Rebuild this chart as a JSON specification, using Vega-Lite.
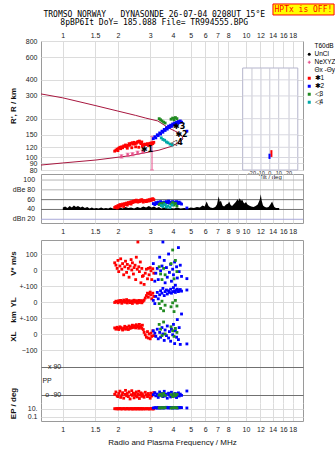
{
"$schema": "https://vega.github.io/schema/vega-lite/v6.json",
"background": "white",
"padding": {"left": 8, "top": 2, "right": 0, "bottom": 0},
"title": {"text": "TROMSO NORWAY\u00a0\u00a0 DYNASONDE 26-07-04 0208UT 15°E", "subtitle": "8pBP6It DoY= 185.088 File= TR994555.BPG", "font": "DejaVu Sans Mono", "fontSize": 8, "fontWeight": "normal", "subtitleFont": "DejaVu Sans Mono", "subtitleFontSize": 8, "subtitlePadding": 0, "subtitleColor": "#000", "color": "#000", "anchor": "middle", "offset": -24, "dx": -18},
"datasets": {
"echo": [
{"f":1.92,"R":112,"amp":44,"V":45,"YL":-3,"XL":38,"PP":-85,"EP":12,"s":"✱1"},
{"f":1.95,"R":114,"amp":46,"V":30,"YL":5,"XL":30,"PP":-70,"EP":11,"s":"✱1"},
{"f":1.98,"R":116,"amp":43,"V":10,"YL":2,"XL":42,"PP":-95,"EP":13,"s":"✱1"},
{"f":2.00,"R":113,"amp":48,"V":60,"YL":-5,"XL":35,"PP":-100,"EP":10,"s":"✱1"},
{"f":2.02,"R":118,"amp":45,"V":-10,"YL":8,"XL":28,"PP":-80,"EP":12,"s":"✱1"},
{"f":2.05,"R":120,"amp":50,"V":25,"YL":0,"XL":45,"PP":-65,"EP":14,"s":"✱1"},
{"f":2.07,"R":117,"amp":47,"V":70,"YL":10,"XL":40,"PP":-105,"EP":11,"s":"✱1"},
{"f":2.10,"R":121,"amp":49,"V":5,"YL":-8,"XL":33,"PP":-90,"EP":10,"s":"✱1"},
{"f":2.12,"R":119,"amp":51,"V":40,"YL":3,"XL":25,"PP":-75,"EP":12,"s":"✱1"},
{"f":2.15,"R":123,"amp":46,"V":-30,"YL":12,"XL":38,"PP":-110,"EP":13,"s":"✱1"},
{"f":2.18,"R":122,"amp":52,"V":20,"YL":-2,"XL":48,"PP":-85,"EP":11,"s":"✱1"},
{"f":2.20,"R":125,"amp":50,"V":55,"YL":6,"XL":30,"PP":-60,"EP":10,"s":"✱1"},
{"f":2.23,"R":121,"amp":53,"V":-15,"YL":15,"XL":36,"PP":-95,"EP":12,"s":"✱1"},
{"f":2.25,"R":118,"amp":49,"V":35,"YL":-6,"XL":42,"PP":-80,"EP":14,"s":"✱1"},
{"f":2.28,"R":124,"amp":54,"V":10,"YL":4,"XL":28,"PP":-100,"EP":11,"s":"✱1"},
{"f":2.30,"R":128,"amp":52,"V":-45,"YL":9,"XL":50,"PP":-70,"EP":10,"s":"✱1"},
{"f":2.33,"R":125,"amp":55,"V":25,"YL":-4,"XL":35,"PP":-115,"EP":12,"s":"✱1"},
{"f":2.36,"R":129,"amp":51,"V":65,"YL":2,"XL":44,"PP":-88,"EP":13,"s":"✱1"},
{"f":2.38,"R":119,"amp":56,"V":0,"YL":7,"XL":39,"PP":-62,"EP":11,"s":"✱1"},
{"f":2.40,"R":130,"amp":54,"V":45,"YL":-9,"XL":55,"PP":-92,"EP":10,"s":"✱1"},
{"f":2.43,"R":127,"amp":57,"V":-25,"YL":5,"XL":41,"PP":-78,"EP":12,"s":"✱1"},
{"f":2.45,"R":131,"amp":55,"V":15,"YL":11,"XL":47,"PP":-108,"EP":11,"s":"✱1"},
{"f":2.48,"R":128,"amp":58,"V":30,"YL":-1,"XL":52,"PP":-84,"EP":13,"s":"✱1"},
{"f":2.50,"R":121,"amp":56,"V":-60,"YL":8,"XL":38,"PP":-96,"EP":10,"s":"✱1"},
{"f":2.52,"R":129,"amp":59,"V":80,"YL":3,"XL":58,"PP":-70,"EP":12,"s":"✱1"},
{"f":2.55,"R":131,"amp":57,"V":5,"YL":-7,"XL":45,"PP":-102,"EP":11,"s":"✱1"},
{"f":2.57,"R":133,"amp":55,"V":175,"YL":6,"XL":50,"PP":-86,"EP":14,"s":"✱1"},
{"f":2.60,"R":120,"amp":58,"V":20,"YL":10,"XL":36,"PP":-66,"EP":10,"s":"✱1"},
{"f":2.62,"R":134,"amp":56,"V":-10,"YL":-3,"XL":60,"PP":-112,"EP":12,"s":"✱1"},
{"f":2.65,"R":131,"amp":59,"V":50,"YL":4,"XL":42,"PP":-90,"EP":11,"s":"✱1"},
{"f":2.67,"R":128,"amp":57,"V":-80,"YL":9,"XL":48,"PP":-76,"EP":13,"s":"✱1"},
{"f":2.70,"R":132,"amp":60,"V":10,"YL":-5,"XL":35,"PP":-98,"EP":10,"s":"✱1"},
{"f":2.72,"R":122,"amp":58,"V":-40,"YL":2,"XL":55,"PP":-82,"EP":12,"s":"✱1"},
{"f":2.75,"R":126,"amp":55,"V":-35,"YL":7,"XL":28,"PP":-94,"EP":11,"s":"✱1"},
{"f":2.78,"R":125,"amp":57,"V":-90,"YL":12,"XL":10,"PP":-104,"EP":12,"s":"✱1"},
{"f":2.82,"R":127,"amp":58,"V":-20,"YL":25,"XL":-5,"PP":-72,"EP":10,"s":"✱1"},
{"f":2.86,"R":126,"amp":56,"V":5,"YL":40,"XL":-20,"PP":-88,"EP":13,"s":"✱1"},
{"f":2.90,"R":128,"amp":59,"V":-55,"YL":55,"XL":15,"PP":-100,"EP":11,"s":"✱1"},
{"f":2.93,"R":124,"amp":57,"V":10,"YL":30,"XL":-25,"PP":-80,"EP":12,"s":"✱1"},
{"f":2.96,"R":127,"amp":60,"V":-30,"YL":50,"XL":0,"PP":-92,"EP":10,"s":"✱1"},
{"f":3.00,"R":129,"amp":58,"V":15,"YL":62,"XL":-30,"PP":-110,"EP":11,"s":"✱1"},
{"f":3.03,"R":126,"amp":61,"V":-5,"YL":45,"XL":5,"PP":-78,"EP":13,"s":"✱1"},
{"f":3.06,"R":130,"amp":59,"V":-60,"YL":20,"XL":-15,"PP":-96,"EP":12,"s":"✱1"},
{"f":3.10,"R":128,"amp":62,"V":8,"YL":55,"XL":20,"PP":-86,"EP":10,"s":"✱1"},
{"f":3.14,"R":131,"amp":60,"V":-20,"YL":35,"XL":-10,"PP":-74,"EP":11,"s":"✱1"},
{"f":3.12,"R":140,"amp":52,"V":40,"YL":10,"XL":20,"PP":-88,"EP":18,"s":"✱2"},
{"f":3.18,"R":145,"amp":50,"V":-70,"YL":-10,"XL":5,"PP":-75,"EP":20,"s":"✱2"},
{"f":3.22,"R":142,"amp":54,"V":-20,"YL":35,"XL":-15,"PP":-95,"EP":22,"s":"✱2"},
{"f":3.28,"R":150,"amp":52,"V":10,"YL":60,"XL":30,"PP":-84,"EP":16,"s":"✱2"},
{"f":3.32,"R":148,"amp":55,"V":-60,"YL":20,"XL":-30,"PP":-105,"EP":25,"s":"✱2"},
{"f":3.38,"R":155,"amp":53,"V":80,"YL":45,"XL":10,"PP":-70,"EP":18,"s":"✱2"},
{"f":3.42,"R":152,"amp":56,"V":-5,"YL":70,"XL":-20,"PP":-92,"EP":20,"s":"✱2"},
{"f":3.48,"R":160,"amp":54,"V":25,"YL":55,"XL":40,"PP":-80,"EP":24,"s":"✱2"},
{"f":3.52,"R":157,"amp":52,"V":175,"YL":85,"XL":0,"PP":-100,"EP":17,"s":"✱2"},
{"f":3.58,"R":165,"amp":55,"V":60,"YL":40,"XL":-40,"PP":-66,"EP":22,"s":"✱2"},
{"f":3.62,"R":162,"amp":53,"V":-80,"YL":65,"XL":25,"PP":-96,"EP":19,"s":"✱2"},
{"f":3.68,"R":170,"amp":56,"V":15,"YL":75,"XL":-10,"PP":-84,"EP":26,"s":"✱2"},
{"f":3.72,"R":166,"amp":54,"V":-45,"YL":50,"XL":50,"PP":-110,"EP":21,"s":"✱2"},
{"f":3.78,"R":175,"amp":57,"V":100,"YL":70,"XL":-25,"PP":-78,"EP":18,"s":"✱2"},
{"f":3.82,"R":171,"amp":53,"V":-15,"YL":60,"XL":15,"PP":-90,"EP":23,"s":"✱2"},
{"f":3.88,"R":178,"amp":55,"V":35,"YL":80,"XL":-45,"PP":-102,"EP":20,"s":"✱2"},
{"f":3.92,"R":174,"amp":52,"V":-70,"YL":55,"XL":30,"PP":-72,"EP":25,"s":"✱2"},
{"f":3.98,"R":182,"amp":56,"V":5,"YL":65,"XL":-5,"PP":-94,"EP":17,"s":"✱2"},
{"f":4.02,"R":178,"amp":54,"V":-30,"YL":90,"XL":60,"PP":-86,"EP":22,"s":"✱2"},
{"f":4.08,"R":185,"amp":55,"V":50,"YL":70,"XL":-60,"PP":-98,"EP":19,"s":"✱2"},
{"f":4.12,"R":181,"amp":53,"V":-95,"YL":60,"XL":20,"PP":-80,"EP":24,"s":"✱2"},
{"f":4.18,"R":188,"amp":56,"V":20,"YL":75,"XL":-20,"PP":-106,"EP":21,"s":"✱2"},
{"f":4.22,"R":184,"amp":54,"V":-50,"YL":80,"XL":90,"PP":-90,"EP":18,"s":"✱2"},
{"f":4.28,"R":190,"amp":52,"V":140,"YL":65,"XL":-35,"PP":-76,"EP":23,"s":"✱2"},
{"f":4.32,"R":186,"amp":55,"V":-10,"YL":72,"XL":40,"PP":-96,"EP":20,"s":"✱2"},
{"f":4.38,"R":192,"amp":53,"V":30,"YL":78,"XL":-65,"PP":-84,"EP":25,"s":"✱2"},
{"f":4.45,"R":188,"amp":51,"V":-40,"YL":68,"XL":125,"PP":-92,"EP":22,"s":"✱2"},
{"f":4.76,"R":160,"amp":43,"V":-54,"YL":75,"XL":-62,"PP":-64,"EP":18,"s":"✱2"},
{"f":3.36,"R":200,"amp":50,"V":20,"YL":-10,"XL":60,"PP":-90,"EP":20,"s":"◁3"},
{"f":3.42,"R":196,"amp":52,"V":-25,"YL":-40,"XL":30,"PP":-84,"EP":18,"s":"◁3"},
{"f":3.48,"R":192,"amp":48,"V":-60,"YL":5,"XL":-10,"PP":-96,"EP":22,"s":"◁3"},
{"f":3.55,"R":188,"amp":53,"V":10,"YL":-55,"XL":75,"PP":-80,"EP":19,"s":"◁3"},
{"f":3.62,"R":185,"amp":50,"V":-30,"YL":-20,"XL":0,"PP":-92,"EP":24,"s":"◁3"},
{"f":3.90,"R":198,"amp":51,"V":40,"YL":-30,"XL":45,"PP":-88,"EP":18,"s":"◁3"},
{"f":3.98,"R":202,"amp":54,"V":125,"YL":-5,"XL":20,"PP":-100,"EP":21,"s":"◁3"},
{"f":4.05,"R":196,"amp":49,"V":-55,"YL":-60,"XL":-15,"PP":-82,"EP":20,"s":"◁3"},
{"f":4.12,"R":204,"amp":52,"V":60,"YL":10,"XL":35,"PP":-94,"EP":23,"s":"◁3"},
{"f":4.20,"R":200,"amp":47,"V":-10,"YL":-25,"XL":10,"PP":-86,"EP":19,"s":"◁3"},
{"f":3.45,"R":142,"amp":48,"s":"◁4"},
{"f":3.52,"R":138,"amp":46,"s":"◁4"},
{"f":3.60,"R":136,"amp":50,"s":"◁4"},
{"f":3.68,"R":132,"amp":45,"s":"◁4"},
{"f":3.75,"R":130,"amp":47,"s":"◁4"},
{"f":3.85,"R":127,"amp":44,"s":"◁4"},
{"f":3.95,"R":125,"amp":49,"s":"◁4"}
],
"noise": [
{"f":1.00,"db":44},{"f":1.03,"db":46},{"f":1.06,"db":43},{"f":1.09,"db":47},{"f":1.12,"db":44},{"f":1.15,"db":48},{"f":1.18,"db":45},{"f":1.21,"db":47},{"f":1.25,"db":44},{"f":1.28,"db":46},{"f":1.32,"db":43},{"f":1.36,"db":45},{"f":1.40,"db":42},{"f":1.44,"db":44},{"f":1.48,"db":42},{"f":1.52,"db":43},{"f":1.57,"db":42},{"f":1.62,"db":44},{"f":1.67,"db":42},{"f":1.72,"db":43},{"f":1.77,"db":42},{"f":1.82,"db":44},{"f":1.88,"db":42},{"f":1.94,"db":43},{"f":2.00,"db":42},{"f":2.06,"db":44},{"f":2.12,"db":42},{"f":2.20,"db":45},{"f":2.28,"db":43},{"f":2.36,"db":44},{"f":2.45,"db":42},{"f":2.55,"db":45},{"f":2.65,"db":43},{"f":2.75,"db":46},{"f":2.85,"db":44},{"f":2.95,"db":47},{"f":3.05,"db":44},{"f":3.15,"db":46},{"f":3.25,"db":43},{"f":3.35,"db":45},{"f":3.45,"db":42},{"f":3.60,"db":44},{"f":3.75,"db":42},{"f":3.90,"db":43},{"f":4.05,"db":42},{"f":4.20,"db":44},{"f":4.40,"db":42},{"f":4.60,"db":43},{"f":4.80,"db":42},{"f":5.00,"db":44},{"f":5.20,"db":43},{"f":5.40,"db":45},{"f":5.60,"db":44},{"f":5.80,"db":48},{"f":5.95,"db":46},{"f":6.10,"db":56},{"f":6.25,"db":47},{"f":6.40,"db":44},{"f":6.60,"db":43},{"f":6.80,"db":45},{"f":6.95,"db":50},{"f":7.10,"db":67},{"f":7.20,"db":55},{"f":7.30,"db":58},{"f":7.45,"db":48},{"f":7.60,"db":46},{"f":7.80,"db":50},{"f":8.00,"db":52},{"f":8.10,"db":56},{"f":8.25,"db":49},{"f":8.40,"db":47},{"f":8.60,"db":51},{"f":8.80,"db":55},{"f":9.00,"db":61},{"f":9.10,"db":57},{"f":9.25,"db":63},{"f":9.40,"db":58},{"f":9.55,"db":60},{"f":9.70,"db":54},{"f":9.85,"db":52},{"f":10.0,"db":55},{"f":10.2,"db":50},{"f":10.4,"db":48},{"f":10.7,"db":46},{"f":11.0,"db":45},{"f":11.3,"db":47},{"f":11.6,"db":50},{"f":11.9,"db":60},{"f":12.05,"db":71},{"f":12.2,"db":58},{"f":12.4,"db":48},{"f":12.7,"db":45},{"f":13.0,"db":44},{"f":13.3,"db":45},{"f":13.6,"db":50},{"f":13.9,"db":56},{"f":14.1,"db":50},{"f":14.3,"db":45},{"f":14.6,"db":43},{"f":15.0,"db":43},{"f":15.2,"db":43}
],
"curve": [
{"o":1,"f":0.76,"R":311},{"o":2,"f":1.0,"R":290},{"o":3,"f":1.5,"R":253},{"o":4,"f":2.0,"R":229},{"o":5,"f":2.5,"R":212},{"o":6,"f":2.84,"R":202},{"o":7,"f":3.3,"R":192},{"o":8,"f":3.8,"R":169},{"o":9,"f":4.3,"R":155},{"o":10,"f":4.47,"R":147},{"o":11,"f":4.53,"R":139},{"o":12,"f":4.41,"R":134.5},{"o":13,"f":3.99,"R":123},{"o":14,"f":3.35,"R":114},{"o":15,"f":2.3,"R":103},{"o":16,"f":1.515,"R":95.6},{"o":17,"f":1.0,"R":90.7},{"o":18,"f":0.76,"R":87.4}
],
"nexyz": [
{"f":2.09,"lo":99,"hi":105,"m":102},{"f":2.26,"lo":102,"hi":108,"m":105},{"f":2.40,"lo":103,"hi":109,"m":106},{"f":2.56,"lo":106,"hi":112,"m":109},{"f":2.73,"lo":108,"hi":114,"m":111},{"f":3.07,"lo":80,"hi":146}
],
"labels": [
{"f":2.67,"R":114,"t":"✱1"},{"f":4.12,"R":149,"t":"✱2"},{"f":4.0,"R":171,"t":"✱3"},{"f":3.9,"R":130,"t":"◁4"}
],
"tiltgrid": [{"f":10.79},{"f":12.08},{"f":13.5},{"f":15.1},{"f":17.2}],
"tilth": [{"R":90},{"R":100},{"R":120},{"R":150},{"R":200},{"R":300},{"R":400}],
"tilt": [{"f":13.78,"lo":101,"hi":114,"s":"✱1"},{"f":13.45,"lo":97.5,"hi":107,"s":"✱2"}],
"tiltlab": [{"f":10.79,"t":"-20"},{"f":12.08,"t":"-10"},{"f":13.5,"t":"0"},{"f":15.1,"t":"10"},{"f":17.2,"t":"20"}],
"pplab": [{"f":0.98,"PP":90,"t":"x 90"},{"f":0.98,"PP":-90,"t":"o -90"},{"f":0.87,"PP":0,"t":"PP"}],
"dbgrid": [{"db":20,"k":"n"},{"db":40,"k":"d"},{"db":60,"k":"d"},{"db":80,"k":"l"},{"db":100,"k":"l"}],
"dblab": [{"db":20,"t":"dBn 20"},{"db":40,"t":"40"},{"db":60,"t":"60"},{"db":80,"t":"dBe 80"},{"db":100,"t":"100"}],
"one": [{}]
},
"vconcat": [
{
"width": 262, "height": 129,
"layer": [
{"data": {"name": "one"}, "mark": {"type": "rect", "fill": "white", "stroke": "#b4b4cc", "strokeWidth": 1},
 "encoding": {
  "x": {"datum": 9.6, "type": "quantitative", "scale": {"type": "log", "domain": [0.76, 20.5], "nice": false}, "axis": {"orient": "top", "values": [1,1.5,2,3,4,5,6,7,8,10,12,14,16,18], "format": "~g", "title": null, "grid": true, "labelPadding": 3}},
  "x2": {"datum": 19.2},
  "y": {"datum": 80, "type": "quantitative", "scale": {"type": "log", "domain": [80, 800], "nice": false}, "axis": {"values": [80,90,100,120,150,200,300,400,600,800], "format": "~g", "title": "R', R / km", "grid": true, "titleX": -28, "titleBaseline": "middle", "labelOverlap": false}},
  "y2": {"datum": 494}
 }},
{"data": {"name": "tiltgrid"}, "mark": {"type": "rule", "color": "#c8c8d4", "strokeWidth": 1},
 "encoding": {"x": {"field": "f", "type": "quantitative"}, "y": {"datum": 80}, "y2": {"datum": 494}}},
{"data": {"name": "tilth"}, "mark": {"type": "rule", "color": "#d8d8e0", "strokeWidth": 1},
 "encoding": {"x": {"datum": 9.6}, "x2": {"datum": 19.2}, "y": {"field": "R", "type": "quantitative"}}},
{"data": {"name": "tilt"}, "transform": [{"filter": "datum.s == '✱1'"}], "mark": {"type": "rule", "color": "#ff0000", "strokeWidth": 2},
 "encoding": {"x": {"field": "f", "type": "quantitative"}, "y": {"field": "lo", "type": "quantitative"}, "y2": {"field": "hi"}}},
{"data": {"name": "tilt"}, "transform": [{"filter": "datum.s == '✱2'"}], "mark": {"type": "rule", "color": "#0000ff", "strokeWidth": 2},
 "encoding": {"x": {"field": "f", "type": "quantitative"}, "y": {"field": "lo", "type": "quantitative"}, "y2": {"field": "hi"}}},
{"data": {"name": "tiltlab"}, "mark": {"type": "text", "font": "Liberation Sans", "fontSize": 5.5, "color": "#222", "baseline": "middle"},
 "encoding": {"x": {"field": "f", "type": "quantitative"}, "y": {"datum": 76.5}, "text": {"field": "t"}}},
{"data": {"name": "one"}, "mark": {"type": "text", "font": "Liberation Sans", "fontSize": 6, "color": "#222", "baseline": "middle"},
 "encoding": {"x": {"datum": 13.6}, "y": {"datum": 70}, "text": {"value": "Tilt / deg"}}},
{"data": {"name": "curve"}, "mark": {"type": "line", "color": "#a8173f", "strokeWidth": 1},
 "encoding": {"x": {"field": "f", "type": "quantitative"}, "y": {"field": "R", "type": "quantitative"}, "order": {"field": "o"}}},
{"data": {"name": "nexyz"}, "mark": {"type": "rule", "color": "#e8508c", "strokeWidth": 1},
 "encoding": {"x": {"field": "f", "type": "quantitative"}, "y": {"field": "lo", "type": "quantitative"}, "y2": {"field": "hi"}}},
{"data": {"name": "nexyz"}, "mark": {"type": "tick", "orient": "horizontal", "color": "#e8508c", "size": 4, "thickness": 1},
 "encoding": {"x": {"field": "f", "type": "quantitative"}, "y": {"field": "lo", "type": "quantitative"}}},
{"data": {"name": "nexyz"}, "mark": {"type": "tick", "orient": "horizontal", "color": "#e8508c", "size": 4, "thickness": 1},
 "encoding": {"x": {"field": "f", "type": "quantitative"}, "y": {"field": "hi", "type": "quantitative"}}},
{"data": {"name": "nexyz"}, "mark": {"type": "square", "color": "#e8508c", "size": 6, "opacity": 1},
 "encoding": {"x": {"field": "f", "type": "quantitative"}, "y": {"field": "m", "type": "quantitative"}}},
{"data": {"name": "echo"}, "mark": {"type": "point", "filled": true, "size": 8, "opacity": 1},
 "encoding": {"x": {"field": "f", "type": "quantitative"}, "y": {"field": "R", "type": "quantitative"},
  "color": {"field": "s", "type": "nominal", "scale": {"domain": ["T60dB","UnCl","NeXYZ","Θx -Θy","✱1","✱2","◁3","◁4"], "range": ["#a0a0a0","#000000","#e8508c","#b0203c","#ff0000","#0000ff","#228b22","#00a8a8"]}, "legend": {"title": null, "orient": "none", "legendX": 265, "legendY": 2, "encode": {"symbols": {"update": {"stroke": {"scale": "color", "field": "value"}, "strokeWidth": {"value": 1.2}, "size": {"signal": "datum.value == 'T60dB' || datum.value == 'Θx -Θy' ? 50 : 9"}}}}}},
  "shape": {"field": "s", "type": "nominal", "scale": {"domain": ["T60dB","UnCl","NeXYZ","Θx -Θy","✱1","✱2","◁3","◁4"], "range": ["stroke","circle","cross","stroke","square","square","square","square"]}, "legend": {"title": null, "orient": "none", "legendX": 265, "legendY": 2, "encode": {"symbols": {"update": {"stroke": {"scale": "color", "field": "value"}, "strokeWidth": {"value": 1.2}, "size": {"signal": "datum.value == 'T60dB' || datum.value == 'Θx -Θy' ? 50 : 9"}}}}}}
 }},
{"data": {"name": "labels"}, "mark": {"type": "text", "font": "DejaVu Sans", "fontSize": 8, "fontWeight": "bold", "color": "#000", "align": "left", "baseline": "middle"},
 "encoding": {"x": {"field": "f", "type": "quantitative"}, "y": {"field": "R", "type": "quantitative"}, "text": {"field": "t"}}},
{"data": {"name": "one"}, "mark": {"type": "rect", "fill": "#ffff00", "stroke": "#ff0000", "strokeWidth": 1},
 "encoding": {"x": {"datum": 14.05}, "x2": {"datum": 30.3}, "y": {"datum": 1273}, "y2": {"datum": 1549}}},
{"data": {"name": "one"}, "mark": {"type": "text", "font": "DejaVu Sans Mono", "fontSize": 8, "color": "#ff0000", "baseline": "middle"},
 "encoding": {"x": {"datum": 20.6}, "y": {"datum": 1390}, "text": {"value": "HPTx is OFF!"}}}
]
},
{"width": 262, "height": 4, "view": {"stroke": null}, "data": {"values": []}, "mark": "point"},
{
"width": 262, "height": 49,
"layer": [
{"data": {"name": "dbgrid"}, "transform": [{"filter": "datum.k == 'l'"}], "mark": {"type": "rule", "color": "#b4b4b4", "strokeWidth": 1},
 "encoding": {
  "x": {"datum": 0.76, "type": "quantitative", "scale": {"type": "log", "domain": [0.76, 20.5], "nice": false}, "axis": {"orient": "bottom", "values": [1,1.5,2,3,4,5,6,7,8,9,10,12,14,16,18], "format": "~g", "title": null, "grid": true, "labelPadding": 4, "labelOverlap": false}},
  "x2": {"datum": 20.5},
  "y": {"field": "db", "type": "quantitative", "scale": {"domain": [12.4, 112.3], "nice": false, "zero": false}, "axis": null}
 }},
{"data": {"name": "dbgrid"}, "transform": [{"filter": "datum.k == 'd'"}], "mark": {"type": "rule", "color": "#707070", "strokeWidth": 1},
 "encoding": {"x": {"datum": 0.76}, "x2": {"datum": 20.5}, "y": {"field": "db", "type": "quantitative"}}},
{"data": {"name": "dbgrid"}, "transform": [{"filter": "datum.k == 'n'"}], "mark": {"type": "rule", "color": "#a8a8d8", "strokeWidth": 1},
 "encoding": {"x": {"datum": 0.76}, "x2": {"datum": 20.5}, "y": {"field": "db", "type": "quantitative"}}},
{"data": {"name": "dblab"}, "mark": {"type": "text", "font": "Liberation Sans", "fontSize": 7, "color": "#222", "align": "right", "baseline": "middle"},
 "encoding": {"x": {"datum": 0.705}, "y": {"field": "db", "type": "quantitative"}, "text": {"field": "t"}}},
{"data": {"name": "noise"}, "mark": {"type": "area", "color": "#000000", "opacity": 1},
 "encoding": {"x": {"field": "f", "type": "quantitative"}, "y": {"field": "db", "type": "quantitative"}, "y2": {"datum": 39}}},
{"data": {"name": "echo"}, "mark": {"type": "point", "filled": true, "size": 8, "opacity": 1},
 "encoding": {"x": {"field": "f", "type": "quantitative"}, "y": {"field": "amp", "type": "quantitative"},
  "color": {"field": "s", "type": "nominal", "scale": {"domain": ["T60dB","UnCl","NeXYZ","Θx -Θy","✱1","✱2","◁3","◁4"], "range": ["#a0a0a0","#000000","#e8508c","#b0203c","#ff0000","#0000ff","#228b22","#00a8a8"]}, "legend": {"title": null, "orient": "none", "legendX": 265, "legendY": 2, "encode": {"symbols": {"update": {"stroke": {"scale": "color", "field": "value"}, "strokeWidth": {"value": 1.2}, "size": {"signal": "datum.value == 'T60dB' || datum.value == 'Θx -Θy' ? 50 : 9"}}}}}},
  "shape": {"field": "s", "type": "nominal", "scale": {"domain": ["T60dB","UnCl","NeXYZ","Θx -Θy","✱1","✱2","◁3","◁4"], "range": ["stroke","circle","cross","stroke","square","square","square","square"]}, "legend": {"title": null, "orient": "none", "legendX": 265, "legendY": 2, "encode": {"symbols": {"update": {"stroke": {"scale": "color", "field": "value"}, "strokeWidth": {"value": 1.2}, "size": {"signal": "datum.value == 'T60dB' || datum.value == 'Θx -Θy' ? 50 : 9"}}}}}}
 }}
]
},
{"width": 262, "height": 17, "view": {"stroke": null}, "data": {"values": []}, "mark": "point"},
{"width": 262, "height": 46, "view": {"stroke": null},
 "data": {"name": "echo"}, "mark": {"type": "point", "filled": true, "size": 8, "opacity": 1},
 "encoding": {
  "x": {"field": "f", "type": "quantitative", "scale": {"type": "log", "domain": [0.76, 20.5], "nice": false}, "axis": {"orient": "top", "values": [0.76,1,1.5,2,3,4,5,6,7,8,10,12,14,16,18,20.5], "labels": false, "title": null, "grid": true, "domain": true, "domainColor": "#9a9a9a", "gridColor": {"condition": {"test": "datum.value < 0.8 || datum.value > 20", "value": "#9a9a9a"}, "value": "#dcdcdc"}}},
  "y": {"field": "V", "type": "quantitative", "scale": {"domain": [-100, 187.5], "nice": false, "zero": false}, "axis": {"values": [100, 0, -100], "labelOverlap": false, "labelExpr": "datum.value == -100 ? '+-100' : datum.label", "title": "V* m/s", "grid": true, "titleX": -28, "titleBaseline": "middle"}},
  "color": {"field": "s", "type": "nominal", "scale": {"domain": ["T60dB","UnCl","NeXYZ","Θx -Θy","✱1","✱2","◁3","◁4"], "range": ["#a0a0a0","#000000","#e8508c","#b0203c","#ff0000","#0000ff","#228b22","#00a8a8"]}, "legend": {"title": null, "orient": "none", "legendX": 265, "legendY": 2, "encode": {"symbols": {"update": {"stroke": {"scale": "color", "field": "value"}, "strokeWidth": {"value": 1.2}, "size": {"signal": "datum.value == 'T60dB' || datum.value == 'Θx -Θy' ? 50 : 9"}}}}}},
  "shape": {"field": "s", "type": "nominal", "scale": {"domain": ["T60dB","UnCl","NeXYZ","Θx -Θy","✱1","✱2","◁3","◁4"], "range": ["stroke","circle","cross","stroke","square","square","square","square"]}, "legend": {"title": null, "orient": "none", "legendX": 265, "legendY": 2, "encode": {"symbols": {"update": {"stroke": {"scale": "color", "field": "value"}, "strokeWidth": {"value": 1.2}, "size": {"signal": "datum.value == 'T60dB' || datum.value == 'Θx -Θy' ? 50 : 9"}}}}}}
 }},
{"width": 262, "height": 32, "view": {"stroke": null},
 "data": {"name": "echo"}, "mark": {"type": "point", "filled": true, "size": 8, "opacity": 1},
 "encoding": {
  "x": {"field": "f", "type": "quantitative", "scale": {"type": "log", "domain": [0.76, 20.5], "nice": false}, "axis": {"orient": "bottom", "values": [0.76,1,1.5,2,3,4,5,6,7,8,10,12,14,16,18,20.5], "labels": false, "title": null, "grid": true, "gridColor": {"condition": {"test": "datum.value < 0.8 || datum.value > 20", "value": "#9a9a9a"}, "value": "#dcdcdc"}}},
  "y": {"field": "YL", "type": "quantitative", "scale": {"domain": [-100, 100], "nice": false, "zero": false}, "axis": {"values": [0, -100], "labelOverlap": false, "labelExpr": "datum.value == -100 ? '+-100' : datum.label", "title": "YL", "grid": true, "titleX": -28, "titleBaseline": "middle"}},
  "color": {"field": "s", "type": "nominal", "scale": {"domain": ["T60dB","UnCl","NeXYZ","Θx -Θy","✱1","✱2","◁3","◁4"], "range": ["#a0a0a0","#000000","#e8508c","#b0203c","#ff0000","#0000ff","#228b22","#00a8a8"]}, "legend": {"title": null, "orient": "none", "legendX": 265, "legendY": 2, "encode": {"symbols": {"update": {"stroke": {"scale": "color", "field": "value"}, "strokeWidth": {"value": 1.2}, "size": {"signal": "datum.value == 'T60dB' || datum.value == 'Θx -Θy' ? 50 : 9"}}}}}},
  "shape": {"field": "s", "type": "nominal", "scale": {"domain": ["T60dB","UnCl","NeXYZ","Θx -Θy","✱1","✱2","◁3","◁4"], "range": ["stroke","circle","cross","stroke","square","square","square","square"]}, "legend": {"title": null, "orient": "none", "legendX": 265, "legendY": 2, "encode": {"symbols": {"update": {"stroke": {"scale": "color", "field": "value"}, "strokeWidth": {"value": 1.2}, "size": {"signal": "datum.value == 'T60dB' || datum.value == 'Θx -Θy' ? 50 : 9"}}}}}}
 }},
{"width": 262, "height": 32, "view": {"stroke": null},
 "data": {"name": "echo"}, "mark": {"type": "point", "filled": true, "size": 8, "opacity": 1},
 "encoding": {
  "x": {"field": "f", "type": "quantitative", "scale": {"type": "log", "domain": [0.76, 20.5], "nice": false}, "axis": {"orient": "bottom", "values": [0.76,1,1.5,2,3,4,5,6,7,8,10,12,14,16,18,20.5], "labels": false, "title": null, "grid": true, "gridColor": {"condition": {"test": "datum.value < 0.8 || datum.value > 20", "value": "#9a9a9a"}, "value": "#dcdcdc"}}},
  "y": {"field": "XL", "type": "quantitative", "scale": {"domain": [-100, 100], "nice": false, "zero": false}, "axis": {"values": [0, -100], "labelOverlap": false, "title": "XL\u00a0\u00a0\u00a0\u00a0km", "grid": true, "titleX": -28, "titleY": 8, "titleBaseline": "middle"}},
  "color": {"field": "s", "type": "nominal", "scale": {"domain": ["T60dB","UnCl","NeXYZ","Θx -Θy","✱1","✱2","◁3","◁4"], "range": ["#a0a0a0","#000000","#e8508c","#b0203c","#ff0000","#0000ff","#228b22","#00a8a8"]}, "legend": {"title": null, "orient": "none", "legendX": 265, "legendY": 2, "encode": {"symbols": {"update": {"stroke": {"scale": "color", "field": "value"}, "strokeWidth": {"value": 1.2}, "size": {"signal": "datum.value == 'T60dB' || datum.value == 'Θx -Θy' ? 50 : 9"}}}}}},
  "shape": {"field": "s", "type": "nominal", "scale": {"domain": ["T60dB","UnCl","NeXYZ","Θx -Θy","✱1","✱2","◁3","◁4"], "range": ["stroke","circle","cross","stroke","square","square","square","square"]}, "legend": {"title": null, "orient": "none", "legendX": 265, "legendY": 2, "encode": {"symbols": {"update": {"stroke": {"scale": "color", "field": "value"}, "strokeWidth": {"value": 1.2}, "size": {"signal": "datum.value == 'T60dB' || datum.value == 'Θx -Θy' ? 50 : 9"}}}}}}
 }},
{"width": 262, "height": 53, "view": {"stroke": null},
 "layer": [
 {"data": {"name": "echo"}, "mark": {"type": "point", "filled": true, "size": 8, "opacity": 1},
  "encoding": {
   "x": {"field": "f", "type": "quantitative", "scale": {"type": "log", "domain": [0.76, 20.5], "nice": false}, "axis": {"orient": "bottom", "values": [0.76,1,1.5,2,3,4,5,6,7,8,10,12,14,16,18,20.5], "labels": false, "title": null, "grid": true, "gridColor": {"condition": {"test": "datum.value < 0.8 || datum.value > 20", "value": "#9a9a9a"}, "value": "#dcdcdc"}}},
   "y": {"field": "PP", "type": "quantitative", "scale": {"domain": [-141, 199], "nice": false, "zero": false}, "axis": {"values": [90, -90], "labels": false, "title": null, "grid": true, "gridColor": "#707070"}},
   "color": {"field": "s", "type": "nominal", "scale": {"domain": ["T60dB","UnCl","NeXYZ","Θx -Θy","✱1","✱2","◁3","◁4"], "range": ["#a0a0a0","#000000","#e8508c","#b0203c","#ff0000","#0000ff","#228b22","#00a8a8"]}, "legend": {"title": null, "orient": "none", "legendX": 265, "legendY": 2, "encode": {"symbols": {"update": {"stroke": {"scale": "color", "field": "value"}, "strokeWidth": {"value": 1.2}, "size": {"signal": "datum.value == 'T60dB' || datum.value == 'Θx -Θy' ? 50 : 9"}}}}}},
   "shape": {"field": "s", "type": "nominal", "scale": {"domain": ["T60dB","UnCl","NeXYZ","Θx -Θy","✱1","✱2","◁3","◁4"], "range": ["stroke","circle","cross","stroke","square","square","square","square"]}, "legend": {"title": null, "orient": "none", "legendX": 265, "legendY": 2, "encode": {"symbols": {"update": {"stroke": {"scale": "color", "field": "value"}, "strokeWidth": {"value": 1.2}, "size": {"signal": "datum.value == 'T60dB' || datum.value == 'Θx -Θy' ? 50 : 9"}}}}}}
  }},
 {"data": {"name": "pplab"}, "mark": {"type": "text", "font": "Liberation Sans", "fontSize": 7, "color": "#222", "align": "right", "baseline": "middle"},
  "encoding": {"x": {"field": "f", "type": "quantitative"}, "y": {"field": "PP", "type": "quantitative"}, "text": {"field": "t"}}}
 ]},
{"width": 262, "height": 18, "view": {"stroke": null},
 "data": {"name": "echo"}, "mark": {"type": "point", "filled": true, "size": 8, "opacity": 1},
 "encoding": {
  "x": {"field": "f", "type": "quantitative", "scale": {"type": "log", "domain": [0.76, 20.5], "nice": false}, "axis": {"orient": "bottom", "values": [0.76,1,1.5,2,3,4,5,6,7,8,10,12,14,16,18,20.5], "format": "~g", "labelOverlap": false, "labelExpr": "datum.value < 0.8 || datum.value > 20 ? '' : datum.label", "title": "Radio and Plasma Frequency / MHz", "titleFontWeight": "normal", "titlePadding": 6, "grid": true, "domain": true, "domainColor": "#9a9a9a", "labelPadding": 4, "gridColor": {"condition": {"test": "datum.value < 0.8 || datum.value > 20", "value": "#9a9a9a"}, "value": "#dcdcdc"}}},
  "y": {"field": "EP", "type": "quantitative", "scale": {"type": "log", "domain": [0.01, 316], "nice": false}, "axis": {"values": [10, 0.1], "labelOverlap": false, "labelExpr": "datum.value == 10 ? '10.' : '0.1'", "title": "EP / deg", "grid": true, "titleX": -28, "titleY": 0, "titleBaseline": "middle"}},
  "color": {"field": "s", "type": "nominal", "scale": {"domain": ["T60dB","UnCl","NeXYZ","Θx -Θy","✱1","✱2","◁3","◁4"], "range": ["#a0a0a0","#000000","#e8508c","#b0203c","#ff0000","#0000ff","#228b22","#00a8a8"]}, "legend": {"title": null, "orient": "none", "legendX": 265, "legendY": 2, "encode": {"symbols": {"update": {"stroke": {"scale": "color", "field": "value"}, "strokeWidth": {"value": 1.2}, "size": {"signal": "datum.value == 'T60dB' || datum.value == 'Θx -Θy' ? 50 : 9"}}}}}},
  "shape": {"field": "s", "type": "nominal", "scale": {"domain": ["T60dB","UnCl","NeXYZ","Θx -Θy","✱1","✱2","◁3","◁4"], "range": ["stroke","circle","cross","stroke","square","square","square","square"]}, "legend": {"title": null, "orient": "none", "legendX": 265, "legendY": 2, "encode": {"symbols": {"update": {"stroke": {"scale": "color", "field": "value"}, "strokeWidth": {"value": 1.2}, "size": {"signal": "datum.value == 'T60dB' || datum.value == 'Θx -Θy' ? 50 : 9"}}}}}}
 }}
],
"spacing": 0, "bounds": "flush",
"resolve": {"scale": {"x": "independent", "y": "independent", "color": "shared", "shape": "shared"}},
"config": {
 "view": {"stroke": "#9a9a9a", "strokeWidth": 1},
 "axis": {"labelFont": "Liberation Sans", "labelFontSize": 7, "labelColor": "#222", "titleFont": "Liberation Sans", "titleFontSize": 8, "titleFontWeight": "bold", "titleColor": "#111", "ticks": false, "domain": false, "gridColor": "#dcdcdc", "gridWidth": 1, "labelPadding": 4, "titlePadding": 4},
 "legend": {"labelFont": "Liberation Sans", "labelFontSize": 6.5, "labelColor": "#000", "symbolSize": 9, "rowPadding": 1, "labelOffset": 2, "padding": 0}
}
}
